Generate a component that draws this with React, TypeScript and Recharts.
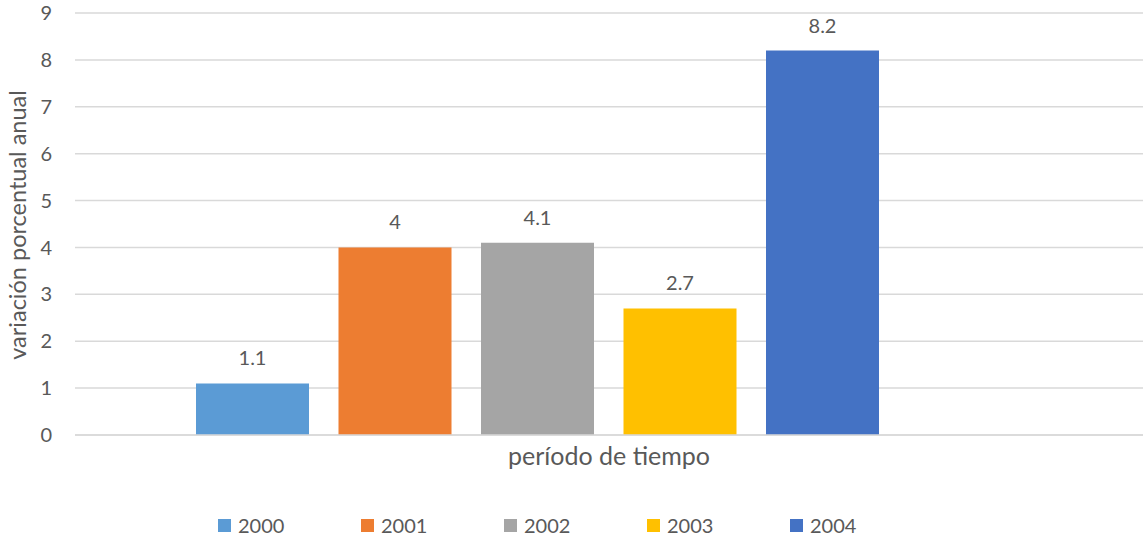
import React from 'react';
import { BarChart, Bar, XAxis, YAxis, CartesianGrid, Legend, LabelList } from 'recharts';

const years = ['2000', '2001', '2002', '2003', '2004'];
const values = [1.1, 4, 4.1, 2.7, 8.2];
const colors = ['#5B9BD5', '#ED7D31', '#A5A5A5', '#FFC000', '#4472C4'];
const yTicks = [0, 1, 2, 3, 4, 5, 6, 7, 8, 9];
const xTitle = 'período de tiempo';
const yTitle = 'variación porcentual anual';

const FONT = 'Lato, "Open Sans", sans-serif';
const TEXT = '#595959';

const row: Record<string, string | number | null> = { name: '' };
years.forEach((y, i) => {
  row[y] = values[i];
});
row['blank'] = null;
const data = [row];

const renderLegend = (props: any) => {
  const payload = (props.payload || []).filter((p: any) => years.includes(String(p.value)));
  return (
    <div style={{ display: 'flex', height: 30, alignItems: 'center', fontFamily: FONT, fontSize: 20, color: TEXT }}>
      {payload.map((p: any) => (
        <div key={p.value} style={{ width: 143, display: 'flex', alignItems: 'center' }}>
          <span style={{ display: 'inline-block', width: 13, height: 13, background: p.color, marginRight: 7 }} />
          <span>{p.value}</span>
        </div>
      ))}
    </div>
  );
};

const YTitle = (props: any) => {
  const vb = props.viewBox || { x: 0, y: 0, width: 0, height: 0 };
  const cx = vb.x + 18;
  const cy = vb.y + vb.height / 2 + 1;
  return (
    <text
      x={cx}
      y={cy}
      transform={`rotate(-90, ${cx}, ${cy})`}
      textAnchor="middle"
      dy="0.35em"
      fill={TEXT}
      fontSize={23.5}
      fontFamily={FONT}
    >
      {yTitle}
    </text>
  );
};

export default function App() {
  return (
    <div style={{ position: 'absolute', left: 0, top: 0, width: 1143, height: 540, background: '#fff', fontFamily: FONT }}>
      <BarChart
        width={1143}
        height={540}
        data={data}
        margin={{ top: 13, right: 0, left: 0, bottom: 0 }}
        barSize={113}
        barGap={29.5}
      >
        <CartesianGrid vertical={false} stroke="#d9d9d9" strokeWidth={1.5} />
        <XAxis
          dataKey="name"
          height={75}
          tick={false}
          tickLine={false}
          axisLine={{ stroke: '#d9d9d9', strokeWidth: 1.5 }}
          label={{ value: xTitle, position: 'insideTop', offset: 12, fill: TEXT, fontSize: 25, fontFamily: FONT }}
        />
        <YAxis
          width={75}
          domain={[0, 9]}
          ticks={yTicks}
          interval={0}
          tickLine={false}
          axisLine={false}
          tickMargin={17}
          tick={{ fill: TEXT, fontSize: 20, fontFamily: FONT }}
          label={<YTitle />}
        />
        <Legend
          verticalAlign="bottom"
          content={renderLegend}
          wrapperStyle={{ left: 218, bottom: 0, width: 760, height: 30 }}
        />
        {years.map((y, i) => (
          <Bar key={y} dataKey={y} name={y} fill={colors[i]} isAnimationActive={false}>
            <LabelList dataKey={y} position="top" offset={18} fill={TEXT} fontSize={20} fontFamily={FONT} />
          </Bar>
        ))}
        <Bar dataKey="blank" legendType="none" fill="transparent" isAnimationActive={false} />
      </BarChart>
    </div>
  );
}
